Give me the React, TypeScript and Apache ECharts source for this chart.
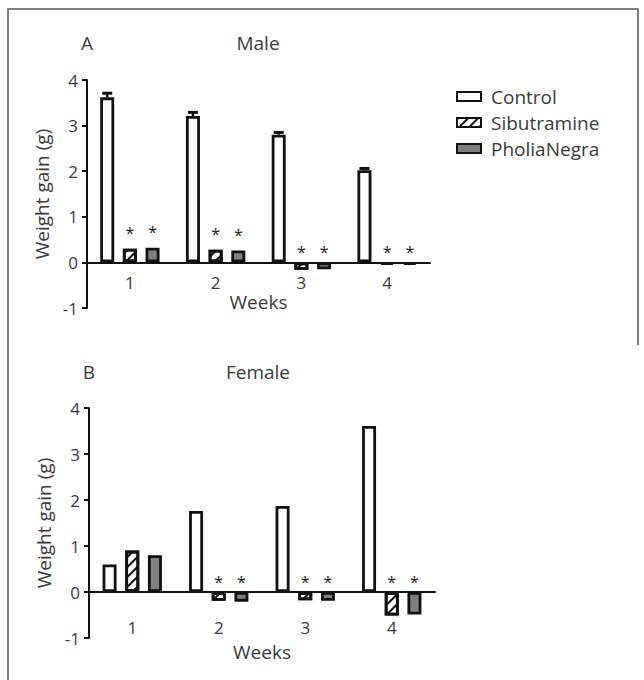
import React, { useEffect, useRef } from "react";
import * as echarts from "echarts";

const weeks = ["1", "2", "3", "4"];
const seriesNames = ["Control", "Sibutramine", "PholiaNegra"];

const maleControl = [3.62, 3.21, 2.8, 2.02];
const maleControlErr = [0.09, 0.08, 0.05, 0.04];
const maleSibutramine = [0.3, 0.28, -0.16, -0.05];
const malePholia = [0.32, 0.26, -0.15, -0.05];
const maleSignificant = [true, true, true, true];

const femaleControl = [0.6, 1.76, 1.87, 3.61];
const femaleSibutramine = [0.9, -0.19, -0.18, -0.51];
const femalePholia = [0.8, -0.21, -0.19, -0.49];
const femaleSignificant = [false, true, true, true];

const yMin = -1;
const yMax = 4;

const FONT = "'Open Sans', 'DejaVu Sans', sans-serif";
const TEXT = "#3a3a3a";
const BW = 14;
const GAP_PCT = 62;

export default function App() {
  const ref = useRef<HTMLDivElement>(null);

  useEffect(() => {
    if (!ref.current) return;
    const chart = echarts.init(ref.current, undefined, { renderer: "svg" });

    const hatch = {
      symbol: "rect",
      symbolSize: 1,
      dashArrayX: [1, 0],
      dashArrayY: [2, 5],
      rotation: -Math.PI / 4,
      color: "#111",
      backgroundColor: "#fff",
    };

    const styles = [
      { color: "#fff", borderColor: "#111", borderWidth: 2.8 },
      { color: "#fff", borderColor: "#111", borderWidth: 2.8, decal: hatch },
      { color: "#808080", borderColor: "#111", borderWidth: 2.8 },
    ];

    const grids = [
      { left: 87, top: 80, width: 343, height: 228 },
      { left: 89, top: 408, width: 346, height: 230 },
    ];

    const starData = (vals: number[], sig: boolean[]) =>
      vals.map((v, i) => ({
        value: v,
        label: {
          show: sig[i],
          distance: v >= 0 ? 8 : 2,
        },
      }));

    const makeBars = (idx: number, data: number[][], sig: boolean[]) =>
      data.map((d, i) => ({
        name: seriesNames[i],
        type: "bar",
        xAxisIndex: idx,
        yAxisIndex: idx,
        data: i === 0 ? d : starData(d, sig),
        barWidth: BW,
        barGap: GAP_PCT + "%",
        itemStyle: styles[i],
        label:
          i === 0
            ? { show: false }
            : {
                show: true,
                position: "top",
                fontSize: 16,
                color: "#222",
                fontFamily: FONT,
                formatter: "*",
              },
        emphasis: { disabled: true },
      }));

    // offset that places the category axis on the zero of the value axis
    const zeroOffset = (h: number) => -(h * (0 - yMin)) / (yMax - yMin);

    const xAxis = (idx: number, margin: number, nameGap: number) => ({
      type: "category",
      gridIndex: idx,
      data: weeks,
      name: "Weeks",
      nameLocation: "middle",
      nameGap,
      offset: zeroOffset(grids[idx].height),
      nameTextStyle: { fontFamily: FONT, fontSize: 19, color: TEXT },
      axisLine: { onZero: false, lineStyle: { color: "#111", width: 2 } },
      axisTick: { show: false },
      axisLabel: { margin, fontFamily: FONT, fontSize: 17, color: TEXT },
      splitLine: { show: false },
    });

    const yAxis = (idx: number) => ({
      type: "value",
      gridIndex: idx,
      min: yMin,
      max: yMax,
      interval: 1,
      name: "Weight gain (g)",
      nameLocation: "middle",
      nameGap: 36,
      nameTextStyle: { fontFamily: FONT, fontSize: 19, color: TEXT },
      axisLine: { show: true, lineStyle: { color: "#111", width: 2 } },
      axisTick: { show: true, length: 5, lineStyle: { color: "#111", width: 2 } },
      axisLabel: { margin: 9, fontFamily: FONT, fontSize: 17, color: TEXT },
      splitLine: { show: false },
    });

    const textEl = (text: string, x: number, y: number, align = "center") => ({
      type: "text",
      x,
      y,
      style: {
        text,
        fontFamily: FONT,
        fontSize: 19,
        fill: TEXT,
        align,
        verticalAlign: "middle",
      },
    });

    chart.setOption({
      animation: false,
      backgroundColor: "#fff",
      legend: {
        data: seriesNames,
        orient: "vertical",
        left: 451,
        top: 82,
        itemWidth: 24,
        itemHeight: 9,
        itemGap: 7,
        icon: "rect",
        selectedMode: false,
        textStyle: { fontFamily: FONT, fontSize: 19, color: TEXT, padding: [0, 0, 0, 5] },
      },
      grid: grids,
      xAxis: [xAxis(0, 12, 26), xAxis(1, 27, 50)],
      yAxis: [yAxis(0), yAxis(1)],
      series: [
        ...makeBars(0, [maleControl, maleSibutramine, malePholia], maleSignificant),
        ...makeBars(1, [femaleControl, femaleSibutramine, femalePholia], femaleSignificant),
        {
          type: "custom",
          name: "errors",
          xAxisIndex: 0,
          yAxisIndex: 0,
          z: 5,
          data: maleControl.map((v, i) => [i, v, maleControlErr[i]]),
          encode: { x: 0, y: 1 },
          renderItem: (params: any, api: any) => {
            const cat = api.value(0);
            const v = api.value(1);
            const e = api.value(2);
            const top = api.coord([cat, v + e]);
            const base = api.coord([cat, v]);
            const gap = (BW * GAP_PCT) / 100;
            const offset = -(3 * BW + 2 * gap) / 2 + BW / 2;
            const x = top[0] + offset;
            return {
              type: "group",
              children: [
                {
                  type: "line",
                  shape: { x1: x, y1: base[1], x2: x, y2: top[1] },
                  style: { stroke: "#111", lineWidth: 2.5 },
                },
                {
                  type: "line",
                  shape: { x1: x - 5, y1: top[1], x2: x + 5, y2: top[1] },
                  style: { stroke: "#111", lineWidth: 3 },
                },
              ],
            };
          },
        },
      ],
      graphic: [
        textEl("A", 87, 43),
        textEl("Male", 258, 43),
        textEl("B", 89, 372),
        textEl("Female", 258, 372),
        {
          type: "polyline",
          shape: { points: [[8, 680], [8, 9], [638, 9], [638, 345]] },
          style: { stroke: "#555", lineWidth: 1.5, fill: "none" },
          silent: true,
        },
      ],
    });

    return () => chart.dispose();
  }, []);

  return (
    <div
      ref={ref}
      style={{ position: "fixed", left: 0, top: 0, width: 644, height: 680 }}
    />
  );
}
